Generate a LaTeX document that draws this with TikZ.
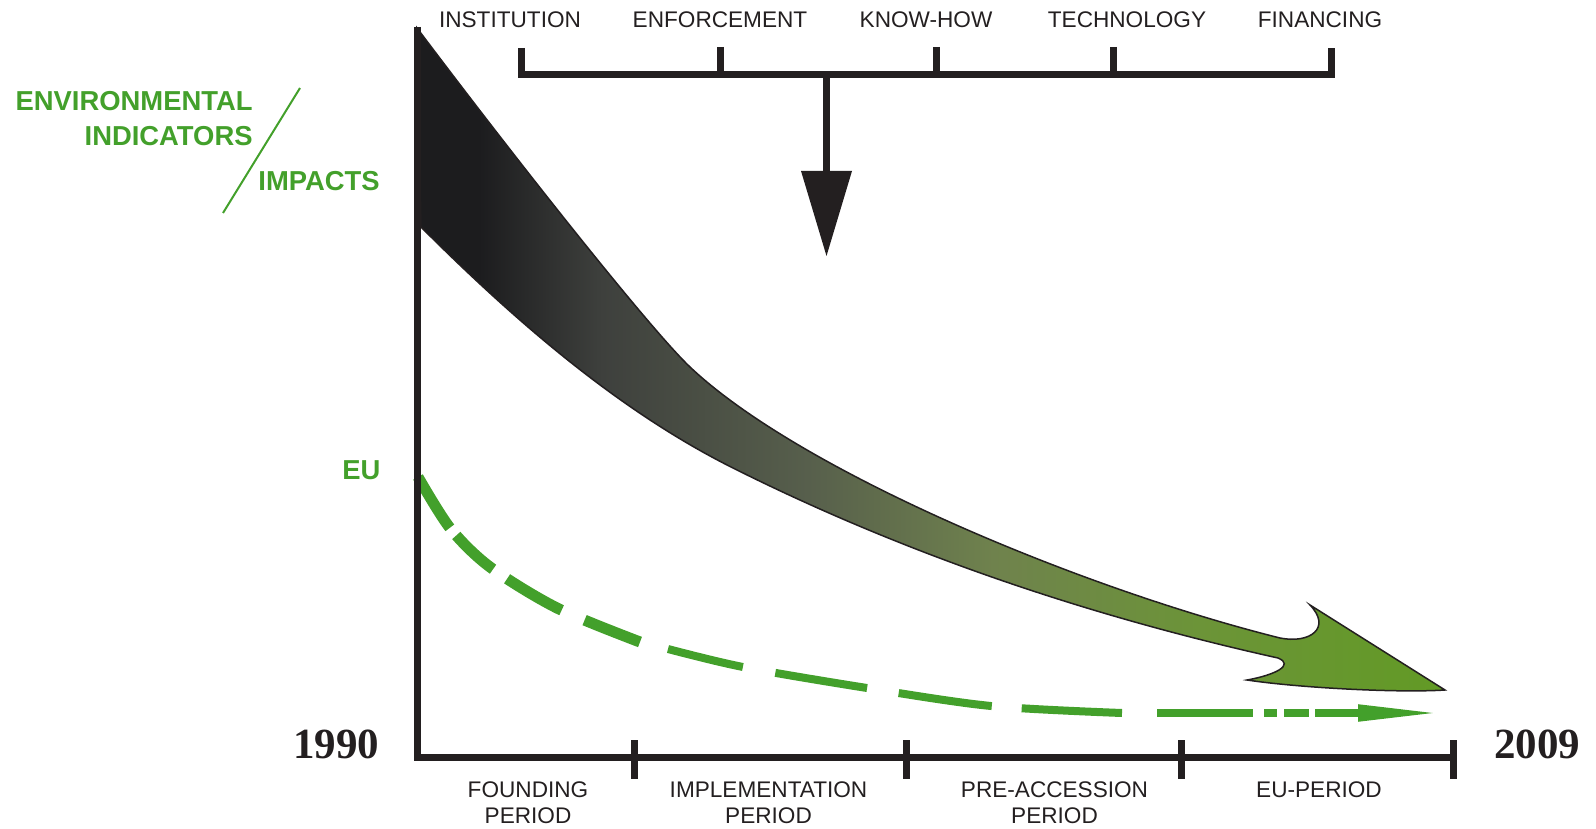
\documentclass[tikz,border=0pt]{standalone}
\usepackage{fontspec}
\setmainfont{Liberation Sans}
\newfontfamily\yearfont{Liberation Serif}
\usetikzlibrary{arrows.meta,positioning}
\definecolor{ink}{HTML}{231F20}
\definecolor{eugreen}{HTML}{43A02B}
\definecolor{bandA}{HTML}{1C1C1E}
\definecolor{bandB}{HTML}{3E403D}
\definecolor{bandC}{HTML}{575F4C}
\definecolor{bandD}{HTML}{6F824D}
\definecolor{bandE}{HTML}{6C9438}
\definecolor{bandF}{HTML}{629A25}
\pgfdeclarehorizontalshading{bandshade}{100bp}{color(0bp)=(bandA); color(28bp)=(bandA); color(34bp)=(bandB); color(44bp)=(bandC); color(53bp)=(bandD); color(63bp)=(bandE); color(75bp)=(bandF); color(100bp)=(bandF)}
\begin{document}
\begin{tikzpicture}[x=0.5pt,y=-0.5pt,line join=miter,
 lbl/.style={font=\fontsize{11.3}{13.2}\selectfont,text=ink,inner sep=0,align=center},
 grn/.style={font=\fontsize{13.7}{15}\selectfont\bfseries,text=eugreen,inner sep=0},
 yr/.style={font=\yearfont\bfseries\fontsize{21.5}{24}\selectfont,text=ink,inner sep=0,anchor=base},
 axis/.style={draw=ink,line width=3.5pt}]
 \useasboundingbox (0,0) rectangle (1596,829);
 \shade[shading=bandshade,draw=ink,line width=0.75pt]
  (417,28) .. controls (517,161) and (650,329) .. (690,367)
  .. controls (800,471) and (1080,588) .. (1280,638)
  .. controls (1310,644) and (1332,628) .. (1310,605) -- (1445,690)
  .. controls (1400,693) and (1300,688) .. (1247,680)
  .. controls (1275,675) and (1295,665) .. (1278,658)
  .. controls (1098,618) and (913,558) .. (733,468)
  .. controls (623,413) and (521,327) .. (421,227)
  -- cycle;
 \draw[eugreen,line width=5.5pt,dash pattern=on 30pt off 5pt on 25pt off 8.5pt on 31.5pt off 12.5pt on 100pt]
  plot[smooth] coordinates {(418,477) (450,528) (490,567) (557,608) (640,642)};
 \draw[eugreen,line width=4pt,dash pattern=on 38.5pt off 16.5pt on 46.5pt off 16pt on 47pt off 15pt on 100pt]
  plot[smooth] coordinates {(668,649) (743,667) (867,688) (991,706) (1122,713)};
 \coordinate (eustart) at (1157,713);
 \coordinate (euend) at (1445,713);
 \draw[eugreen,line width=4pt,dash pattern=on 48pt off 5.5pt on 6.5pt off 3.5pt on 12.5pt off 3pt on 200pt,-{Triangle[length=43.5pt,width=7.5pt]}] (eustart) -- (euend);
 \draw[axis] (417,27) -- (417,757) -- (1453.5,757);
 \foreach \x in {634,906,1181,1453.5} \draw[axis] (\x,740) -- (\x,779);
 \draw[axis] (521,48) -- (521,75) -- (1331,75) -- (1331,48);
 \foreach \x in {720,936,1113} \draw[axis] (\x,47) -- (\x,75);
 \coordinate (stemtop) at (826.5,75);
 \coordinate (stemtip) at (826.5,256.5);
 \draw[axis,-{Triangle[length=42.75pt,width=24.5pt]}] (stemtop) -- (stemtip);
 \foreach \x/\n/\t in {510/inst/INSTITUTION,720/enf/ENFORCEMENT,926/know/KNOW-HOW,1127/tech/TECHNOLOGY,1320/fin/FINANCING}
  \node[lbl] (\n) at (\x,20) {\t};
 \foreach \x/\n/\t in {528/found/{FOUNDING\\PERIOD},768.5/impl/{IMPLEMENTATION\\PERIOD},1054.5/pre/{PRE-ACCESSION\\PERIOD}}
  \node[lbl] (\n) at (\x,803) {\t};
 \node[lbl] (eup) at (1319,790) {EU-PERIOD};
 \node[yr] (start) at (336,758) {1990};
 \node[yr] (stop) at (1537,758) {2009};
 \node[grn,anchor=east] (env) at (253,101) {ENVIRONMENTAL};
 \node[grn,anchor=east] (ind) at (253,136) {INDICATORS};
 \node[grn,anchor=west] (imp) at (258,181) {IMPACTS};
 \node[grn] (eu) at (361.5,470) {EU};
 \draw[eugreen,line width=1pt] (300,88) -- (223,213);
\end{tikzpicture}
\end{document}
